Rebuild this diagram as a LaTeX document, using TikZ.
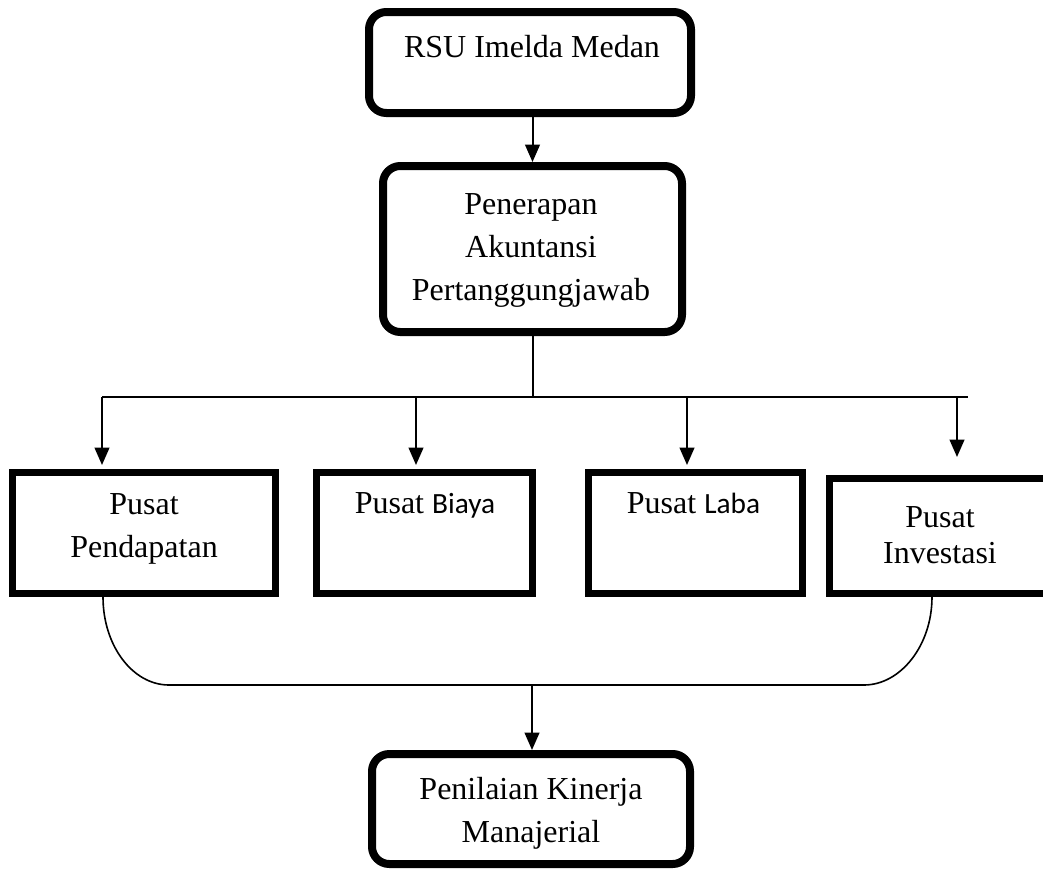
\documentclass[tikz,border=0pt]{standalone}
\usepackage{fontspec}
\setmainfont{Liberation Serif}
\newfontfamily\calibri{Carlito}
\usetikzlibrary{arrows.meta}
\begin{document}
\begin{tikzpicture}[x=0.75pt,y=-0.75pt,
  rbox/.style={draw, line width=6pt, rounded corners=13pt, inner sep=0pt},
  sbox/.style={draw, line width=5.25pt, inner sep=0pt},
  txt/.style={font=\fontsize{24}{32.25}\selectfont, align=center, inner sep=0pt, anchor=base},
  conn/.style={line width=1.5pt},
  curv/.style={line width=1.2pt},
  arr/.style={conn, -{Triangle[length=13pt,width=11pt]}}
]
\clip (0,0) rectangle (1043,868);
% rounded boxes
\node[rbox, minimum width=241.5pt, minimum height=75.75pt] (rsu) at (530,62.5) {};
\node[rbox, minimum width=224.25pt, minimum height=124.5pt] (pen) at (532.5,249) {};
\node[rbox, minimum width=238.5pt, minimum height=82.5pt] (pkm) at (531,809) {};
% square boxes
\node[sbox, minimum width=197.25pt, minimum height=90.75pt] (pp) at (144,533) {};
\node[sbox, minimum width=162pt, minimum height=90.75pt] (pb) at (424.5,533) {};
\node[sbox, minimum width=160.5pt, minimum height=90.75pt] (pl) at (695.5,533) {};
\node[sbox, minimum width=167pt, minimum height=86.25pt] (pi) at (940.75,536) {};
% texts (anchor base = baseline of the last line)
\node[txt] (rsuT) at (532,57) {RSU Imelda Medan};
\node[txt] (penT) at (531,300) {Penerapan\\Akuntansi\\Pertanggungjawab};
\node[txt] (pkmT) at (531,842) {Penilaian Kinerja\\Manajerial};
\node[txt] (ppT) at (144,557) {Pusat\\Pendapatan};
\node[txt] (pbT) at (425,513) {Pusat {\calibri\fontsize{22}{26}\selectfont Biaya}};
\node[txt] (plT) at (693.5,513) {Pusat {\calibri\fontsize{22}{26}\selectfont Laba}};
\node[txt, font=\fontsize{24}{27}\selectfont] (piT) at (940,563) {Pusat\\Investasi};
% connectors
\draw[arr] (rsu.south -| pen.north) -- (pen.north);
\coordinate (bA) at (102,397);
\coordinate (bB) at (416,397);
\coordinate (bC) at (687,397);
\coordinate (bD) at (957,397);
\coordinate (bR) at (968,397);
\draw[conn] (pen.south) -- (pen.south |- bA);
\draw[conn] (bA) -- (bR);
\draw[arr, shorten >=3pt] (bA) -- (bA |- pp.north);
\draw[arr, shorten >=3pt] (bB) -- (bB |- pb.north);
\draw[arr, shorten >=3pt] (bC) -- (bC |- pl.north);
\draw[arr, shorten >=13.5pt] (bD) -- (bD |- pi.north);
% merge curve
\coordinate (sL) at (103,597);
\coordinate (sR) at (932,597);
\coordinate (jL) at (169,685);
\coordinate (jR) at (864,685);
\coordinate (jM) at (532,685);
\draw[curv] (sL) .. controls +(0,48.6) and +(-36.4,0) .. (jL) -- (jR) .. controls +(36.4,0) and +(0,48.6) .. (sR);
\draw[arr] (jM) -- (jM |- pkm.north);
\end{tikzpicture}
\end{document}
